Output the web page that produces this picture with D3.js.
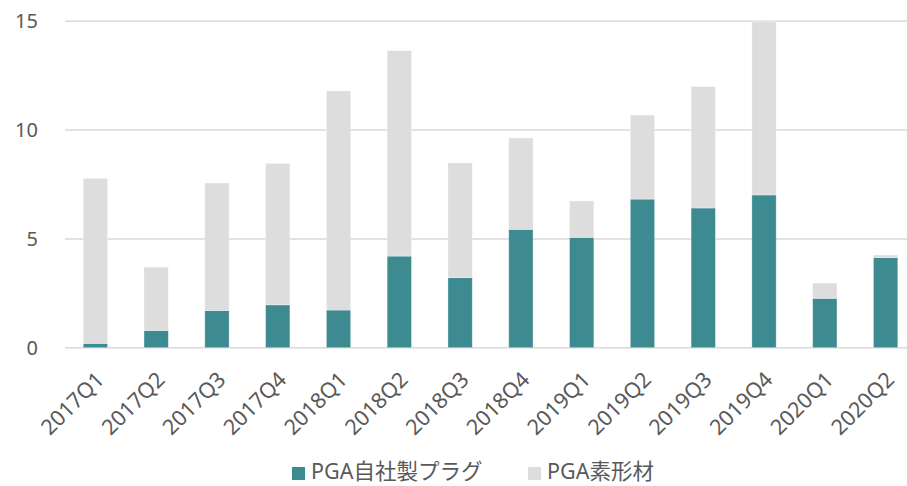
<html>
<head>
    <meta charset="utf-8">
    <script src="https://d3js.org/d3.v7.min.js"></script>
    <style>
        body { margin: 0; background: #fff; }
        text { font-family: "Noto Sans", "Noto Sans CJK JP", sans-serif; fill: #595959; }
    </style>
</head>
<body>
<div id="chart"></div>
<script type="text/javascript">
    // data
    var quarters = ["2017Q1", "2017Q2", "2017Q3", "2017Q4", "2018Q1", "2018Q2", "2018Q3",
                    "2018Q4", "2019Q1", "2019Q2", "2019Q3", "2019Q4", "2020Q1", "2020Q2"];
    var plugs = [0.20, 0.79, 1.71, 1.97, 1.73, 4.21, 3.22, 5.44, 5.07, 6.83, 6.42, 7.02, 2.27, 4.14];
    var blanks = [7.58, 2.91, 5.86, 6.50, 10.07, 9.44, 5.27, 4.20, 1.67, 3.86, 5.58, 7.96, 0.70, 0.12];
    var seriesNames = ["PGA自社製プラグ", "PGA素形材"];
    var colors = ["#3d8b91", "#dddddd"];
    var yTicks = [0, 5, 10, 15];

    var width = 907, height = 486;
    var svg = d3.select("#chart").append("svg")
        .attr("width", width)
        .attr("height", height);

    var x = d3.scaleBand().domain(quarters).range([65, 916]).paddingInner(0.6).paddingOuter(0.3);
    var y = d3.scaleLinear().domain([0, 15]).range([347.7, 21.3]);

    // gridlines
    svg.append("g").selectAll("line")
        .data(yTicks)
        .enter().append("line")
        .attr("x1", 65).attr("x2", width)
        .attr("y1", function(d) { return y(d); })
        .attr("y2", function(d) { return y(d); })
        .attr("stroke", "#d9d9d9")
        .attr("stroke-width", 1.5);

    // y axis labels
    var yAxis = svg.append("g")
        .attr("transform", "translate(38,0)")
        .call(d3.axisLeft(y).tickValues(yTicks).tickSize(0).tickPadding(0));
    yAxis.select(".domain").remove();
    yAxis.selectAll("text")
        .style("font-size", "20px")
        .attr("fill", "#595959");

    // stack
    var table = quarters.map(function(q, i) {
        return { q: q, plug: plugs[i], blank: blanks[i] };
    });
    var stack = d3.stack().keys(["plug", "blank"])(table);

    svg.append("g").selectAll("g")
        .data(stack)
        .enter().append("g")
        .attr("fill", function(d, i) { return colors[i]; })
        .selectAll("rect")
        .data(function(d) { return d; })
        .enter().append("rect")
        .attr("x", function(d) { return x(d.data.q); })
        .attr("width", x.bandwidth())
        .attr("y", function(d) { return y(d[1]); })
        .attr("height", function(d) { return y(d[0]) - y(d[1]); })
        .attr("stroke", "#ffffff")
        .attr("stroke-opacity", 0.4)
        .attr("stroke-width", 0.8);

    // x axis labels, rotated
    var xAxis = svg.append("g")
        .attr("transform", "translate(0,348)")
        .call(d3.axisBottom(x).tickSize(0).tickPadding(0));
    xAxis.select(".domain").remove();
    xAxis.selectAll("text")
        .style("font-size", "21.5px")
        .attr("fill", "#595959")
        .attr("text-anchor", "end")
        .attr("dy", 0)
        .attr("y", 0)
        .attr("transform", "translate(10,33) rotate(-45)");

    // legend
    var legendX = [292, 528];
    var legend = svg.append("g").selectAll("g")
        .data(seriesNames)
        .enter().append("g")
        .attr("transform", function(d, i) { return "translate(" + legendX[i] + ",0)"; });
    legend.append("rect")
        .attr("x", 0).attr("y", 467)
        .attr("width", 13).attr("height", 13)
        .attr("fill", function(d, i) { return colors[i]; });
    legend.append("text")
        .attr("x", 19).attr("y", 479)
        .style("font-size", "21.5px")
        .text(function(d) { return d; });
</script>
</body>
</html>
